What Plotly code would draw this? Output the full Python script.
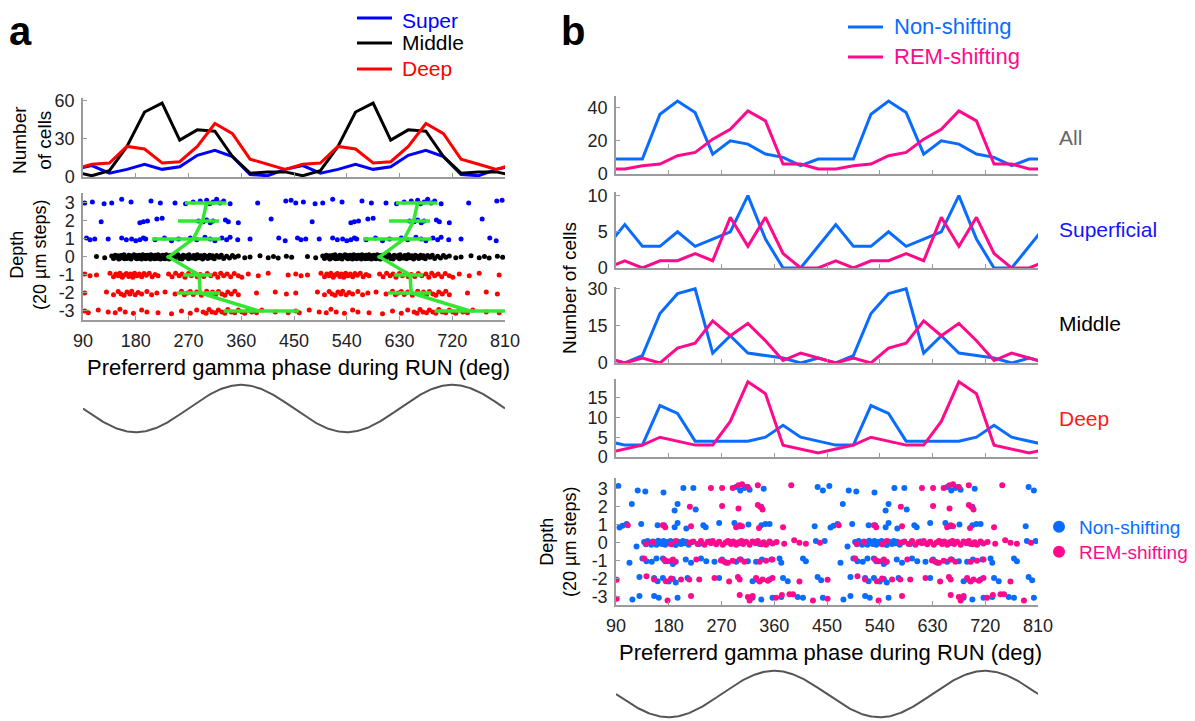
import numpy as np
import plotly.graph_objects as go

FONT = "Liberation Sans, Arial, Helvetica, sans-serif"
W, H = 1195, 721
OFF = 8  # the page body margin shifts the figure by this many pixels

# ---------------- data ----------------
bin_centers = [105, 135, 165, 195, 225, 255, 285, 315, 345, 375, 405, 435]
x_ticks = [90, 180, 270, 360, 450, 540, 630, 720, 810]
depth_ticks = [-3, -2, -1, 0, 1, 2, 3]
depth_labels = ["-3", "-2", "-1", "0", "1", "2", "3"]

# panel a: number of cells per phase bin (one gamma cycle, plotted twice)
a_super = [9, 3, 6, 10, 6, 8, 17, 21, 16, 2, 1, 6]
a_middle = [1, 5, 24, 51, 58, 29, 37, 36, 16, 3, 4, 4]
a_deep = [10, 11, 24, 22, 11, 12, 24, 42, 34, 14, 10, 6]

# panel b: non-shifting vs REM-shifting
b_all_non = [9, 9, 36, 44, 37, 12, 20, 18, 12, 10, 5, 9]
b_all_rem = [3, 5, 6, 11, 13, 21, 27, 38, 32, 6, 6, 3]
b_sup_non = [6, 3, 3, 5, 3, 4, 5, 10, 4, 0, 0, 3]
b_sup_rem = [1, 0, 1, 1, 2, 1, 7, 3, 7, 2, 0, 0]
b_mid_non = [0, 3, 20, 28, 30, 4, 11, 4, 3, 2, 0, 2]
b_mid_rem = [0, 2, 0, 6, 8, 17, 11, 16, 9, 1, 4, 2]
b_deep_non = [3, 3, 13, 11, 4, 4, 4, 4, 5, 8, 5, 4]
b_deep_rem = [2, 3, 5, 4, 3, 3, 9, 19, 16, 3, 2, 1]

# panel a: individual cells (phase in deg, depth in 20 um steps)
a_super_pts = [
    (93, 3.0), (106, 3.05), (126, 2.95), (139, 3.0), (156, 3.2), (172, 3.05), (206, 3.1), (222, 3.0),
    (247, 3.0), (265, 2.95), (278, 3.05), (290, 3.1), (301, 3.15), (306, 2.95), (312, 3.05), (318, 3.2),
    (324, 3.0), (330, 3.1), (341, 2.95), (388, 3.0), (436, 3.1), (445, 3.15),
    (121, 1.95), (187, 1.9), (193, 1.95), (200, 2.0), (216, 2.1), (225, 2.15), (287, 2.0), (295, 1.95),
    (301, 2.05), (307, 1.9), (312, 2.0), (333, 2.05), (338, 1.95), (355, 1.9), (411, 2.1),
    (96, 1.05), (102, 0.95), (110, 1.0), (133, 1.0), (156, 1.05), (164, 0.95), (173, 1.0), (180, 0.9),
    (187, 0.95), (193, 1.05), (197, 1.0), (213, 0.95), (229, 1.05), (241, 0.9), (253, 1.0), (273, 1.05),
    (284, 0.95), (298, 1.1), (307, 1.0), (315, 0.9), (327, 1.05), (335, 0.95), (341, 1.1), (354, 0.95),
    (375, 1.0), (424, 1.05), (435, 0.9),
]
a_middle_pts = [
    (113, 0.02), (127, -0.05),
    (139, 0.05), (142, -0.08), (145, 0.1), (147, -0.02), (150, 0.06), (151, -0.12), (152, -0.1), (155, 0.08),
    (158, -0.04), (160, 0.12), (161, -0.1), (163, 0.0), (165, -0.08), (168, 0.1), (170, -0.03), (171, 0.06),
    (172, -0.12), (175, 0.04), (177, 0.12), (180, -0.06), (181, 0.08), (182, -0.1), (184, 0.02), (186, 0.1),
    (188, -0.08), (189, 0.05), (190, -0.12), (192, 0.12), (194, -0.02), (196, 0.08), (197, -0.1), (198, 0.02),
    (200, 0.1), (202, -0.06), (204, 0.06), (205, -0.12), (206, 0.12), (208, -0.04), (210, 0.04), (212, -0.1),
    (213, 0.1), (214, 0.0), (216, -0.08), (218, 0.12), (220, -0.02), (221, 0.06), (222, -0.12), (224, 0.04),
    (226, 0.1), (228, -0.08), (229, 0.02), (230, -0.1), (232, 0.12), (234, -0.04), (236, 0.06), (237, -0.12),
    (238, 0.0), (240, 0.1), (243, -0.06), (245, 0.08), (246, -0.1), (249, 0.04), (252, 0.12), (255, -0.08),
    (258, 0.02), (259, -0.12), (261, 0.1), (264, -0.02), (267, 0.06), (270, -0.1), (271, 0.12), (273, 0.0),
    (276, -0.06), (279, 0.08), (282, -0.1), (283, 0.04), (285, 0.12), (288, -0.04), (291, 0.06), (294, -0.12),
    (297, 0.1), (298, -0.02), (300, 0.04), (303, -0.08), (306, 0.1), (310, -0.04), (311, 0.06), (314, -0.1),
    (318, 0.08), (322, -0.02), (326, 0.1), (330, -0.08), (335, 0.04), (340, -0.06), (345, 0.08), (349, -0.02),
    (355, 0.05), (366, -0.05), (375, 0.0), (392, 0.06), (406, -0.04), (415, 0.02), (423, -0.06), (437, 0.04),
    (446, -0.02),
]
a_deep_pts = [
    (93, -0.95), (102, -1.05), (113, -1.0), (136, -0.9), (142, -1.1), (146, -0.95), (150, -1.05), (153, -0.9),
    (157, -1.12), (160, -1.0), (164, -0.92), (168, -1.08), (171, -0.95), (175, -1.12), (178, -0.9), (182, -1.05),
    (186, -0.95), (190, -1.1), (194, -0.92), (198, -1.02), (203, -0.9), (208, -1.1), (213, -0.98), (218, -1.05),
    (236, -0.95), (242, -1.1), (248, -0.9), (254, -1.05), (259, -0.95), (264, -1.12), (270, -0.92), (275, -1.05),
    (280, -0.9), (285, -1.1), (290, -0.98), (296, -1.08), (302, -0.92), (308, -1.05), (315, -0.95), (320, -1.12),
    (325, -0.9), (330, -1.05), (336, -0.95), (342, -1.1), (348, -0.92), (355, -1.05), (361, -1.12), (372, -0.95),
    (389, -1.05), (406, -0.9), (440, -1.0),
    (93, -2.0), (130, -1.95), (142, -2.1), (150, -1.92), (155, -2.05), (160, -2.12), (165, -1.95), (170, -2.05),
    (173, -1.9), (179, -2.1), (184, -1.98), (190, -2.05), (199, -1.92), (207, -2.1), (216, -2.0), (230, -1.95),
    (247, -2.05), (258, -1.9), (263, -2.1), (268, -2.0), (273, -1.92), (278, -2.08), (284, -1.95), (292, -2.12),
    (301, -1.9), (306, -2.05), (311, -1.95), (316, -2.1), (321, -1.92), (327, -2.05), (332, -2.12), (337, -1.95),
    (343, -2.05), (349, -1.9), (355, -2.1), (386, -2.0), (418, -1.95), (437, -2.05),
    (93, -3.0), (99, -3.1), (116, -2.95), (133, -3.05), (145, -3.1), (153, -2.9), (162, -3.05), (176, -3.12),
    (190, -2.95), (199, -3.05), (218, -3.1), (241, -3.15), (258, -3.0), (273, -3.12), (284, -2.95), (295, -3.05),
    (300, -3.12), (305, -2.92), (310, -3.05), (316, -3.1), (321, -2.95), (327, -3.05), (332, -3.12), (337, -2.92),
    (343, -3.05), (349, -3.1), (355, -2.95), (361, -3.05), (366, -3.12), (372, -2.95), (378, -3.05), (386, -3.1),
    (395, -2.95), (418, -3.05), (440, -3.1),
]

# panel a: mean preferred phase per depth with error range
mean_depths = [3, 2, 1, 0, -1, -2, -3]
mean_phase = [301, 294, 278, 236, 288, 290, 390]
err_minus = [37, 42, 70, 3, 27, 40, 60]
err_plus = [34, 28, 47, 3, 22, 34, 68]

# panel b: individual cells
b_non_pts = [
    (94, 3.15), (127, 2.9), (140, 2.85), (171, 2.8), (205, 3.05), (222, 3.05), (295, 3.1), (302, 2.9),
    (309, 3.05), (313, 3.1), (318, 2.95), (342, 3.0), (434, 3.1), (443, 2.9),
    (117, 2.15), (190, 1.8), (195, 2.15), (226, 1.85), (338, 2.0),
    (96, 0.85), (101, 0.95), (108, 1.05), (133, 1.05), (161, 0.98), (172, 0.98), (190, 0.87), (195, 1.1),
    (210, 0.8), (239, 0.98), (243, 0.87), (266, 1.1), (292, 1.1), (301, 0.92), (316, 1.02), (338, 0.98),
    (345, 1.05), (352, 1.05), (429, 0.92),
    (125, -0.2), (138, 0.05), (141, -0.08), (144, 0.1), (147, 0.0), (150, -0.1), (153, 0.08), (156, 0.02),
    (159, -0.1), (162, 0.12), (165, 0.0), (168, -0.06), (171, 0.1), (174, -0.1), (177, 0.05), (180, -0.02),
    (183, 0.1), (186, -0.08), (189, 0.03), (192, -0.12), (195, 0.08), (198, 0.0), (201, -0.06), (204, 0.1),
    (207, -0.02), (210, 0.06), (214, -0.1), (219, 0.04), (232, -0.06), (249, 0.08), (261, -0.04), (283, 0.06),
    (301, -0.02), (323, 0.05), (335, -0.06), (352, 0.04), (431, 0.1), (446, 0.1),
    (113, -1.1), (135, -0.87), (142, -1.02), (151, -1.05), (159, -0.87), (170, -0.87), (174, -1.02),
    (184, -1.02), (187, -1.17), (192, -1.05), (209, -0.92), (218, -1.1), (235, -0.87), (244, -1.02),
    (258, -1.05), (271, -0.92), (278, -1.1), (295, -1.05), (303, -0.92), (315, -1.02), (329, -1.05),
    (339, -0.92), (355, -0.92), (369, -0.87), (372, -1.1), (409, -0.87), (414, -1.02),
    (130, -1.9), (155, -1.95), (161, -2.13), (170, -1.95), (180, -2.15), (187, -2.0), (192, -2.2), (212, -1.95),
    (266, -1.95), (323, -2.13), (329, -2.03), (352, -2.03), (375, -1.95), (383, -2.13), (434, -1.9), (440, -2.08),
    (118, -3.15), (130, -2.95), (155, -2.95), (163, -3.05), (195, -3.05), (323, -3.05), (338, -3.15),
    (357, -3.05), (372, -3.0), (400, -3.0), (409, -3.05), (443, -3.05),
]
b_rem_pts = [
    (252, 3.05), (271, 3.05), (289, 3.05), (299, 3.2), (305, 3.25), (315, 3.1), (332, 3.2), (389, 3.2),
    (216, 2.0), (271, 2.05), (299, 1.9), (332, 2.1), (336, 2.0), (340, 1.85),
    (110, 0.98), (170, 0.98), (174, 0.87), (218, 0.92), (295, 0.87), (301, 0.98), (305, 0.92), (334, 0.83),
    (375, 0.87),
    (141, -0.05), (153, 0.05), (184, -0.08), (192, 0.1), (215, 0.0), (222, 0.08), (229, -0.06), (235, 0.1),
    (241, -0.1), (246, 0.05), (252, -0.02), (255, 0.1), (261, -0.08), (266, 0.06), (272, -0.1), (277, 0.02),
    (281, 0.1), (286, -0.06), (290, 0.08), (295, -0.1), (299, 0.04), (304, 0.1), (307, -0.06), (312, 0.06),
    (318, -0.1), (323, 0.08), (328, -0.02), (332, 0.1), (338, -0.08), (342, 0.04), (346, -0.1), (352, 0.08),
    (357, -0.04), (364, 0.05), (377, -0.05), (394, 0.15), (403, 0.0), (414, -0.05), (438, 0.0),
    (138, -0.87), (172, -0.92), (178, -1.02), (187, -0.92), (191, -1.05), (227, -0.92), (269, -0.98),
    (275, -1.05), (281, -1.1), (289, -1.0), (301, -0.92), (309, -1.05), (335, -1.05), (346, -1.0), (357, -0.92),
    (91, -2.05), (142, -1.85), (155, -2.03), (175, -2.13), (184, -1.98), (201, -2.03), (215, -2.03),
    (232, -2.03), (258, -1.95), (283, -2.15), (298, -1.9), (301, -2.03), (329, -1.95), (335, -2.15),
    (340, -2.03), (349, -2.1), (357, -1.95), (403, -2.15),
    (91, -3.1), (178, -3.2), (218, -2.95), (301, -2.9), (315, -3.0), (318, -3.2), (323, -2.95), (363, -3.05),
    (373, -2.9), (386, -2.85), (392, -2.85), (426, -3.2),
]

# legend entries
a_legend = [("Super", "#0000ff"), ("Middle", "#000000"), ("Deep", "#ff0000")]
b_legend = [("Non-shifting", "#0a6cff"), ("REM-shifting", "#ff0a8c")]

# colours
C_SUP, C_MID, C_DEEP = "#0000ff", "#000000", "#ff0000"
C_NON, C_REM = "#0a6cff", "#ff0a8c"
C_GREEN = "#33e633"
C_AX = "#9a9a9a"


# ---------------- helpers ----------------
def tile_line(vals):
    xs, ys = [], []
    for shift in (-360, 0, 360, 720):
        for c, v in zip(bin_centers, vals):
            x = c + shift
            if 70 <= x <= 830:
                xs.append(x)
                ys.append(v)
    return xs, ys


def tile_pts(pts):
    xs, ys = [], []
    for shift in (0, 360):
        for p, d in pts:
            xs.append(p + shift)
            ys.append(d)
    return xs, ys


def fx(px):
    return (px - OFF) / W


def fy(py):
    return 1 - (py - OFF) / H


def dom_x(l, r):
    return [fx(l), fx(r)]


def dom_y(top, bot):
    return [fy(bot), fy(top)]


fig = go.Figure()


def add_line(vals, color, ax, name=""):
    xs, ys = tile_line(vals)
    fig.add_trace(go.Scatter(
        x=xs, y=ys, mode="lines", line=dict(color=color, width=3),
        xaxis="x" + ax, yaxis="y" + ax, name=name, showlegend=False,
    ))


# panel a histogram lines
add_line(a_super, C_SUP, "", "Super")
add_line(a_middle, C_MID, "", "Middle")
add_line(a_deep, C_DEEP, "", "Deep")

# panel a scatter
for pts, col in ((a_super_pts, C_SUP), (a_middle_pts, C_MID), (a_deep_pts, C_DEEP)):
    xs, ys = tile_pts(pts)
    fig.add_trace(go.Scatter(x=xs, y=ys, mode="markers", marker=dict(color=col, size=5),
                             xaxis="x2", yaxis="y2", showlegend=False))

# green mean lines with error bars (two cycles)
gx, gy, gp, gm = [], [], [], []
for shift in (0, 360):
    for d, m, lo, hi in zip(mean_depths, mean_phase, err_minus, err_plus):
        gx.append(m + shift)
        gy.append(d)
        gp.append(hi)
        gm.append(lo)
    gx.append(None)
    gy.append(None)
    gp.append(0)
    gm.append(0)
fig.add_trace(go.Scatter(
    x=gx, y=gy, mode="lines", line=dict(color=C_GREEN, width=3.5),
    error_x=dict(type="data", symmetric=False, array=gp, arrayminus=gm,
                 color=C_GREEN, thickness=3.5, width=0),
    xaxis="x2", yaxis="y2", showlegend=False, connectgaps=False,
))

# reference gamma cycles
phase = np.linspace(90, 810, 400)
for ax in ("3", "9"):
    fig.add_trace(go.Scatter(x=phase, y=np.cos(np.deg2rad(phase)), mode="lines",
                             line=dict(color="#555555", width=2),
                             xaxis="x" + ax, yaxis="y" + ax, showlegend=False))

# panel b lines
add_line(b_all_non, C_NON, "4", "Non-shifting")
add_line(b_all_rem, C_REM, "4", "REM-shifting")
add_line(b_sup_non, C_NON, "5")
add_line(b_sup_rem, C_REM, "5")
add_line(b_mid_non, C_NON, "6")
add_line(b_mid_rem, C_REM, "6")
add_line(b_deep_non, C_NON, "7")
add_line(b_deep_rem, C_REM, "7")

# panel b scatter
for pts, col, nm, lg in ((b_non_pts, C_NON, "Non-shifting", "legend"),
                         (b_rem_pts, C_REM, "REM-shifting", "legend2")):
    xs, ys = tile_pts(pts)
    fig.add_trace(go.Scatter(x=xs, y=ys, mode="markers", marker=dict(color=col, size=6),
                             xaxis="x8", yaxis="y8",
                             name="<span style='color:%s'>%s</span>" % (col, nm),
                             showlegend=True, legend=lg))

# ---------------- axes ----------------
tickfont = dict(size=18, color="#222222", family=FONT)


def xax(domain, anchor, labels):
    return dict(domain=domain, anchor=anchor, range=[90, 810], tickvals=x_ticks,
                showticklabels=labels, ticks="inside", ticklen=4, tickcolor=C_AX,
                showline=True, linecolor=C_AX, linewidth=1.5, showgrid=False, zeroline=False,
                tickfont=tickfont, ticklabelstandoff=4, fixedrange=True, automargin=False)


def yax(domain, anchor, rng, ticks, labels=None):
    d = dict(domain=domain, anchor=anchor, range=rng, tickvals=ticks,
             ticks="inside", ticklen=4, tickcolor=C_AX,
             showline=True, linecolor=C_AX, linewidth=1.5, showgrid=False, zeroline=False,
             tickfont=tickfont, ticklabelstandoff=3, fixedrange=True, automargin=False)
    if labels:
        d["ticktext"] = labels
    return d


AX = dom_x(83, 505)
BX = dom_x(616, 1038)
hidden = dict(visible=False, fixedrange=True, automargin=False)

layout_axes = dict(
    xaxis=xax(AX, "y", False), yaxis=yax(dom_y(98, 177), "x", [0, 62], [0, 30, 60]),
    xaxis2=xax(AX, "y2", True),
    yaxis2=yax(dom_y(193, 320), "x2", [-3.5, 3.55], depth_ticks, depth_labels),
    xaxis3=dict(domain=AX, anchor="y3", range=[90, 810], **hidden),
    yaxis3=dict(domain=dom_y(382, 435), anchor="x3", range=[-1.12, 1.12], **hidden),
    xaxis4=xax(BX, "y4", False), yaxis4=yax(dom_y(96, 174), "x4", [0, 47], [0, 20, 40]),
    xaxis5=xax(BX, "y5", False), yaxis5=yax(dom_y(192, 268), "x5", [0, 10.5], [0, 5, 10]),
    xaxis6=xax(BX, "y6", False), yaxis6=yax(dom_y(287, 363), "x6", [0, 30.7], [0, 15, 30]),
    xaxis7=xax(BX, "y7", False), yaxis7=yax(dom_y(379, 457), "x7", [0, 19.7], [0, 5, 10, 15]),
    xaxis8=xax(BX, "y8", True),
    yaxis8=yax(dom_y(478, 605), "x8", [-3.45, 3.6], depth_ticks, depth_labels),
    xaxis9=dict(domain=BX, anchor="y9", range=[90, 810], **hidden),
    yaxis9=dict(domain=dom_y(668, 720), anchor="x9", range=[-1.12, 1.12], **hidden),
)


def ann(text, x, y, size, color="#000000", angle=0, xanchor="center", bold=False, yanchor="middle"):
    return dict(text="<b>%s</b>" % text if bold else text, x=fx(x), y=fy(y),
                xref="paper", yref="paper", showarrow=False, textangle=angle,
                xanchor=xanchor, yanchor=yanchor, align="center", borderpad=0,
                font=dict(size=size, color=color, family=FONT))


annotations = [
    ann("a", 8, 8, 40, xanchor="left", bold=True, yanchor="top"),
    ann("b", 560, 8, 40, xanchor="left", bold=True, yanchor="top"),
    ann("Preferrerd gamma phase during RUN (deg)", 298, 367, 22),
    ann("Preferrerd gamma phase during RUN (deg)", 830, 652, 22),
    ann("Number<br>of cells", 32, 140, 19, angle=-90),
    ann("Depth<br>(20 µm steps)", 28, 255, 18, angle=-90),
    ann("Number of cells", 569, 288, 19, angle=-90),
    ann("Depth<br>(20 µm steps)", 558, 542, 18, angle=-90),
    ann("All", 1058, 137, 21, color="#666666", xanchor="left"),
    ann("Superficial", 1058, 230, 21, color="#1414ff", xanchor="left"),
    ann("Middle", 1058, 323, 21, color="#000000", xanchor="left"),
    ann("Deep", 1058, 418, 21, color="#ff1a1a", xanchor="left"),
]

# line legends drawn as key lines + labels
shapes = []
for (label, col), yc in zip(a_legend, (18, 43, 69)):
    shapes.append(dict(type="line", xref="paper", yref="paper", x0=fx(357), x1=fx(392),
                       y0=fy(yc), y1=fy(yc), line=dict(color=col, width=3)))
    if yc < 20:
        annotations.append(ann(label, 401, 8, 21, color=col, xanchor="left", yanchor="top"))
    else:
        annotations.append(ann(label, 401, yc, 21, color=col, xanchor="left"))
for (label, col), yc in zip(b_legend, (27, 57)):
    shapes.append(dict(type="line", xref="paper", yref="paper", x0=fx(848), x1=fx(883),
                       y0=fy(yc), y1=fy(yc), line=dict(color=col, width=3)))
    annotations.append(ann(label, 893, yc, 22, color=col, xanchor="left"))


def leg(x_text, y_center, size):
    return dict(x=fx(x_text - 40), y=fy(y_center), xanchor="left", yanchor="middle",
                font=dict(size=size, family=FONT), bgcolor="rgba(0,0,0,0)", itemwidth=30,
                itemsizing="constant", borderwidth=0)


fig.update_layout(
    template="none",
    width=W, height=H, margin=dict(l=0, r=0, t=0, b=0, pad=0), autosize=False,
    paper_bgcolor="white", plot_bgcolor="white",
    font=dict(family=FONT, color="#000000"),
    annotations=annotations,
    shapes=shapes,
    legend=leg(1079, 527, 19),
    legend2=leg(1079, 552, 19),
    showlegend=True,
    **layout_axes,
)

fig.write_html("out.html")
